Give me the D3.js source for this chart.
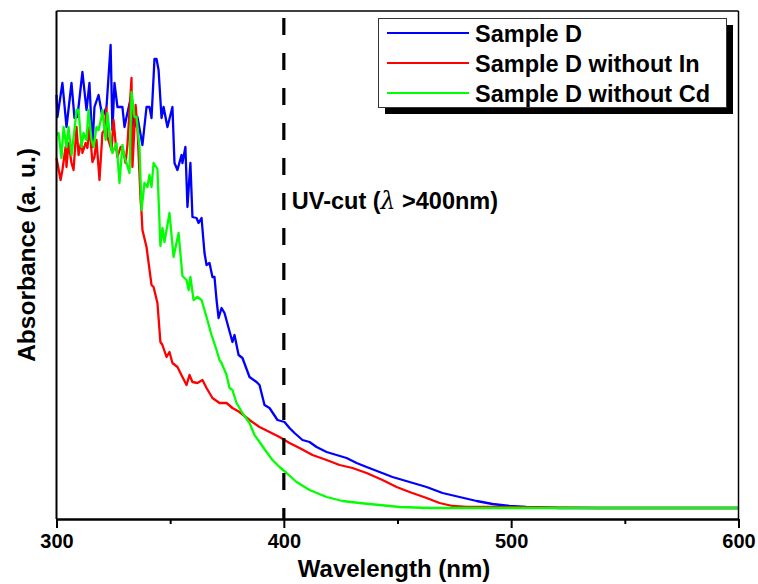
<!DOCTYPE html>
<html>
<head>
<meta charset="utf-8">
<script src="https://cdn.jsdelivr.net/npm/d3@7"></script>
<style>
  body { margin: 0; background: #fff; }
  svg text { font-family: "Liberation Sans", Arial, sans-serif; font-weight: bold; }
</style>
</head>
<body>
<div id="chart"></div>
<script>
// wavelength (nm) / absorbance (a.u.)
const sampleDWl = [300.0, 300.4, 302.6, 304.4, 306.6, 307.9, 309.2, 311.4, 313.2, 314.5, 315.8, 316.7, 318.5, 320.2, 322.0, 323.8, 324.6, 325.5, 326.8, 329.0, 329.9, 330.8, 333.0, 334.3, 335.6, 337.8, 339.6, 340.9, 341.8, 343.1, 344.0, 344.9, 346.2, 347.1, 348.8, 351.0, 351.9, 353.2, 355.0, 355.4, 356.7, 357.6, 358.9, 359.8, 361.6, 362.5, 363.8, 365.1, 366.0, 367.3, 368.6, 369.5, 370.4, 371.3, 372.6, 373.9, 377.4, 378.3, 380.1, 381.8, 384.9, 388.0, 389.3, 391.5, 393.7, 397.2, 400.3, 402.5, 404.7, 408.2, 411.3, 414.4, 418.8, 423.2, 427.6, 432.0, 436.4, 442.1, 447.8, 455.3, 462.8, 469.8, 477.3, 484.8, 491.8, 499.3, 506.7, 521.2, 538.8, 600.0];
const sampleDAbs = [4.24, 4.02, 4.36, 3.92, 4.36, 4.01, 4.02, 4.47, 4.09, 4.36, 3.72, 4.12, 4.24, 4.02, 4.12, 4.74, 3.89, 4.36, 4.12, 4.12, 3.92, 4.02, 4.24, 3.92, 4.02, 3.74, 4.12, 4.12, 4.01, 4.60, 4.60, 4.49, 4.01, 4.12, 3.92, 4.12, 3.56, 3.49, 3.64, 3.56, 3.72, 3.12, 3.56, 3.02, 3.01, 2.96, 3.01, 2.66, 2.54, 2.56, 2.42, 2.42, 2.19, 2.01, 2.11, 2.06, 1.77, 1.84, 1.64, 1.61, 1.42, 1.37, 1.34, 1.14, 1.11, 0.99, 0.97, 0.91, 0.86, 0.79, 0.77, 0.72, 0.67, 0.64, 0.61, 0.56, 0.52, 0.47, 0.42, 0.37, 0.32, 0.26, 0.22, 0.18, 0.15, 0.13, 0.12, 0.11, 0.11, 0.11];

const noInWl = [300.0, 301.8, 302.6, 304.0, 304.4, 305.3, 306.6, 307.5, 308.8, 309.7, 311.0, 311.4, 312.8, 313.6, 314.5, 315.8, 316.7, 317.6, 318.9, 320.2, 321.1, 322.0, 322.4, 324.2, 325.1, 326.0, 326.8, 328.2, 329.0, 330.4, 331.2, 333.0, 333.4, 334.8, 335.6, 337.0, 337.4, 337.8, 339.6, 341.8, 342.7, 344.4, 345.7, 346.6, 348.4, 349.7, 351.0, 353.2, 355.4, 357.2, 358.5, 359.8, 362.0, 364.2, 366.0, 368.6, 371.7, 374.8, 377.4, 380.5, 384.9, 389.3, 393.7, 398.1, 402.5, 406.9, 412.6, 418.8, 424.5, 430.2, 436.4, 443.4, 449.6, 455.3, 462.8, 468.5, 474.2, 480.4, 491.8, 538.8, 600.0];
const noInAbs = [3.61, 3.39, 3.49, 3.72, 3.52, 3.76, 3.56, 3.49, 3.92, 3.64, 3.79, 3.66, 3.76, 3.71, 3.92, 3.57, 3.62, 3.79, 3.39, 3.86, 3.89, 4.11, 3.82, 3.69, 3.99, 3.76, 3.62, 3.72, 3.72, 3.56, 3.74, 4.41, 3.52, 4.14, 3.92, 3.19, 3.07, 2.89, 2.72, 2.34, 2.32, 2.16, 1.77, 1.74, 1.62, 1.67, 1.56, 1.52, 1.42, 1.34, 1.44, 1.37, 1.36, 1.39, 1.31, 1.21, 1.16, 1.16, 1.11, 1.07, 0.99, 0.92, 0.87, 0.82, 0.76, 0.71, 0.64, 0.59, 0.54, 0.51, 0.46, 0.39, 0.32, 0.27, 0.21, 0.16, 0.13, 0.12, 0.12, 0.11, 0.11];

const noCdWl = [300.0, 300.9, 302.2, 303.1, 304.4, 305.3, 306.6, 307.9, 308.8, 309.7, 311.0, 311.9, 313.2, 314.1, 315.4, 316.3, 317.6, 318.5, 319.8, 320.2, 321.6, 322.4, 324.2, 324.6, 326.4, 327.7, 329.0, 329.9, 330.8, 332.1, 333.0, 334.3, 335.2, 336.5, 337.4, 338.7, 340.0, 340.9, 341.8, 342.7, 344.4, 345.7, 346.6, 347.5, 349.7, 351.5, 353.7, 355.4, 357.2, 358.1, 358.9, 360.3, 362.0, 363.8, 366.0, 368.2, 370.4, 371.7, 372.6, 374.8, 376.1, 377.4, 379.2, 381.8, 384.9, 387.1, 389.3, 392.4, 395.0, 398.1, 401.2, 405.6, 411.3, 418.8, 425.8, 433.3, 442.1, 450.9, 464.1, 600.0];
const noCdAbs = [3.84, 3.86, 3.61, 3.92, 3.72, 3.92, 3.64, 3.89, 4.09, 4.09, 3.72, 3.86, 3.79, 4.09, 3.79, 3.72, 3.92, 3.89, 4.02, 4.09, 3.79, 4.06, 3.69, 3.66, 3.76, 3.36, 3.74, 3.62, 3.56, 3.46, 4.27, 4.02, 4.02, 3.72, 3.09, 3.36, 3.32, 3.44, 3.32, 3.56, 3.50, 2.73, 2.91, 2.77, 3.06, 2.62, 2.86, 2.43, 2.39, 2.29, 2.42, 2.19, 2.22, 2.19, 2.02, 1.84, 1.69, 1.59, 1.56, 1.44, 1.31, 1.29, 1.16, 1.06, 0.96, 0.84, 0.77, 0.67, 0.59, 0.52, 0.46, 0.37, 0.29, 0.22, 0.18, 0.16, 0.14, 0.12, 0.11, 0.11];

const seriesNames = ["Sample D", "Sample D without In", "Sample D without Cd"];
const seriesColors = ["#0000ff", "#ff0000", "#00ff00"];
const majorTicks = [300, 400, 500, 600];
const minorTicks = [350, 450, 550];
const cutWavelength = 400;

const width = 758, height = 584;
const plotLeft = 56.5, plotRight = 738.5, plotTop = 11, plotBottom = 519;

const svg = d3.select("#chart")
      .append("svg")
      .attr("width", width)
      .attr("height", height);

const x = d3.scaleLinear().domain([300, 600]).range([plotLeft, plotRight]);
const y = d3.scaleLinear().domain([0, 5.08]).range([plotBottom, plotTop]);

const series = [
    d3.zip(sampleDWl, sampleDAbs),
    d3.zip(noInWl, noInAbs),
    d3.zip(noCdWl, noCdAbs)
];

const line = d3.line()
      .x(d => x(d[0]))
      .y(d => y(d[1]));

svg.selectAll("path.series")
    .data(series)
    .enter()
    .append("path")
    .attr("class", "series")
    .attr("d", line)
    .attr("fill", "none")
    .attr("stroke", (d, i) => seriesColors[i])
    .attr("stroke-width", 2.3)
    .attr("stroke-linejoin", "round");

// UV cut-off marker
svg.append("line")
    .attr("x1", x(cutWavelength)).attr("x2", x(cutWavelength))
    .attr("y1", 18).attr("y2", plotBottom)
    .attr("stroke", "black")
    .attr("stroke-width", 3.2)
    .attr("stroke-dasharray", "17,18");

const uv = svg.append("text")
    .attr("x", x(cutWavelength) + 8)
    .attr("y", 209)
    .attr("font-size", 23.5);
uv.append("tspan").text("UV-cut (");
uv.append("tspan").attr("font-style", "italic").attr("font-weight", "normal")
    .attr("font-family", "DejaVu Serif").text("λ");
uv.append("tspan").text(" >400nm)");

// frame
svg.append("line").attr("x1", plotLeft).attr("x2", plotRight).attr("y1", plotTop).attr("y2", plotTop)
    .attr("stroke", "black").attr("stroke-width", 1.5);
svg.append("line").attr("x1", plotRight).attr("x2", plotRight).attr("y1", plotTop).attr("y2", plotBottom)
    .attr("stroke", "black").attr("stroke-width", 1.5);
svg.append("line").attr("x1", plotLeft).attr("x2", plotLeft).attr("y1", plotTop).attr("y2", plotBottom)
    .attr("stroke", "black").attr("stroke-width", 2);

// x axis
const xAxis = svg.append("g")
    .attr("transform", `translate(0,${plotBottom})`)
    .call(d3.axisBottom(x).tickValues(majorTicks).tickSize(9).tickSizeOuter(0).tickPadding(6));
svg.append("g")
    .attr("transform", `translate(0,${plotBottom})`)
    .call(d3.axisBottom(x).tickValues(minorTicks).tickSize(5).tickSizeOuter(0).tickFormat(""))
    .select(".domain").remove();
svg.selectAll(".tick line").attr("stroke-width", 2);
xAxis.select(".domain").attr("stroke-width", 2.5);
xAxis.selectAll(".tick text")
    .attr("font-size", 20)
    .attr("font-family", "Liberation Sans, Arial, sans-serif")
    .attr("font-weight", "bold")
    .attr("fill", "black");

svg.append("text")
    .attr("x", 394)
    .attr("y", 577)
    .attr("text-anchor", "middle")
    .attr("font-size", 24)
    .text("Wavelength (nm)");

svg.append("text")
    .attr("transform", "translate(35,255) rotate(-90)")
    .attr("text-anchor", "middle")
    .attr("font-size", 24.5)
    .text("Absorbance (a. u.)");

// legend
const legend = svg.append("g");
legend.append("rect")
    .attr("x", 385).attr("y", 25).attr("width", 348).attr("height", 89)
    .attr("fill", "black");
legend.append("rect")
    .attr("x", 378.5).attr("y", 18.5).attr("width", 348).attr("height", 89)
    .attr("fill", "white").attr("stroke", "#333").attr("stroke-width", 1);

const rows = legend.selectAll("g.row")
    .data(seriesNames)
    .enter()
    .append("g")
    .attr("class", "row")
    .attr("transform", (d, i) => `translate(0,${33 + i * 30})`);
rows.append("line")
    .attr("x1", 387).attr("x2", 469)
    .attr("stroke", (d, i) => seriesColors[i])
    .attr("stroke-width", 2);
rows.append("text")
    .attr("x", 475)
    .attr("y", 9)
    .attr("font-size", 23.5)
    .text(d => d);
</script>
</body>
</html>
